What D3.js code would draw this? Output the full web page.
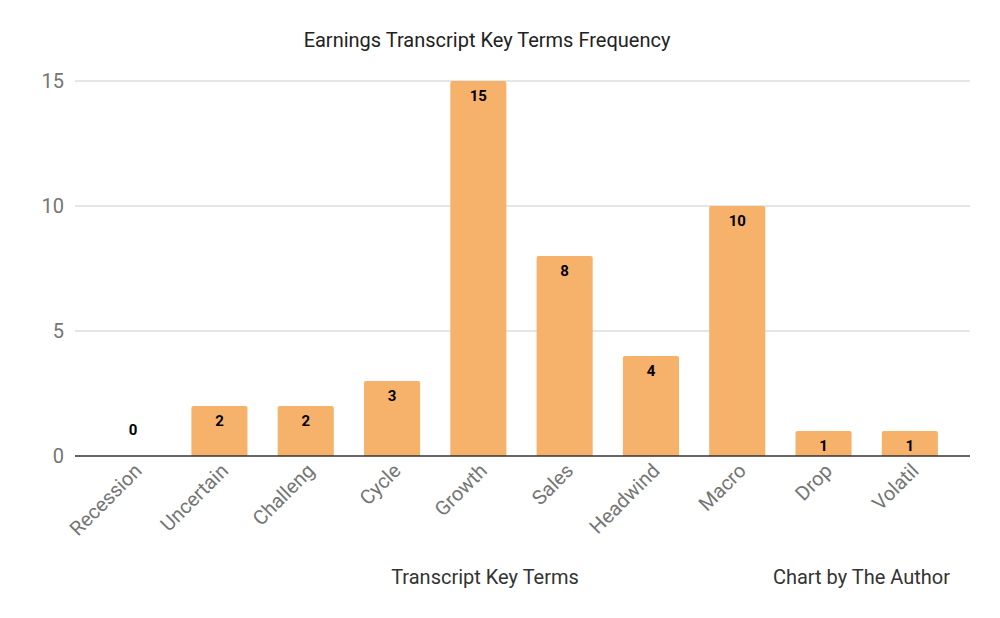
<!DOCTYPE html>
<html>
<head>
<meta charset="utf-8">
<script src="https://cdn.jsdelivr.net/npm/d3@7"></script>
<style>
  body { margin: 0; background: #fff; }
  text { font-family: Roboto, "Noto Sans", sans-serif; }
</style>
</head>
<body>
<div id="chart"></div>
<script>
const terms = ["Recession", "Uncertain", "Challeng", "Cycle", "Growth", "Sales", "Headwind", "Macro", "Drop", "Volatil"];
const counts = [0, 2, 2, 3, 15, 8, 4, 10, 1, 1];
const yTicks = [0, 5, 10, 15];

const width = 1000, height = 618;
const gridLeft = 75, gridRight = 970;

const svg = d3.select("#chart").append("svg")
    .attr("width", width).attr("height", height);

const x = d3.scaleBand().domain(terms).range([90, 953]).paddingInner(0.35).paddingOuter(0.175);
const y = d3.scaleLinear().domain([0, 15]).range([456, 81]);

// gridlines
svg.append("g").selectAll("line").data(yTicks.filter(d => d > 0)).join("line")
    .attr("x1", gridLeft).attr("x2", gridRight)
    .attr("y1", d => y(d)).attr("y2", d => y(d))
    .attr("stroke", "#cccccc").attr("stroke-width", 1);

// y tick labels
svg.append("g").selectAll("text").data(yTicks).join("text")
    .attr("x", 64).attr("y", d => y(d)).attr("dy", "0.35em")
    .attr("text-anchor", "end").attr("font-size", 20).attr("fill", "#757575")
    .text(d => d);

// bars with rounded top corners
const r = 2;
svg.append("g").selectAll("path").data(counts.map((v, i) => ({term: terms[i], v})).filter(d => d.v > 0)).join("path")
    .attr("fill", "#f6b26b")
    .attr("d", d => {
        const x0 = x(d.term), w = x.bandwidth(), top = y(d.v), base = y(0);
        return `M${x0},${base}V${top + r}Q${x0},${top} ${x0 + r},${top}H${x0 + w - r}Q${x0 + w},${top} ${x0 + w},${top + r}V${base}Z`;
    });

// value labels
svg.append("g").selectAll("text").data(counts.map((v, i) => ({term: terms[i], v}))).join("text")
    .attr("x", d => x(d.term) + x.bandwidth() / 2)
    .attr("y", d => d.v > 0 ? y(d.v) + 15 : y(0) - 26)
    .attr("dy", "0.35em")
    .attr("text-anchor", "middle").attr("font-size", 15).attr("font-weight", "bold").attr("fill", "#000")
    .text(d => d.v);

// baseline
svg.append("line")
    .attr("x1", gridLeft).attr("x2", gridRight)
    .attr("y1", y(0)).attr("y2", y(0))
    .attr("stroke", "#333").attr("stroke-width", 1.5);

// x labels
svg.append("g").selectAll("text").data(terms).join("text")
    .attr("transform", d => `translate(${x(d) + x.bandwidth() / 2 + 10},${472}) rotate(-45)`)
    .attr("text-anchor", "end").attr("font-size", 20).attr("fill", "#757575")
    .text(d => d);

// title
svg.append("text").attr("x", 487).attr("y", 47)
    .attr("text-anchor", "middle").attr("font-size", 20).attr("fill", "#222")
    .text("Earnings Transcript Key Terms Frequency");

// axis title
svg.append("text").attr("x", 485).attr("y", 584)
    .attr("text-anchor", "middle").attr("font-size", 20).attr("fill", "#333")
    .text("Transcript Key Terms");

svg.append("text").attr("x", 950).attr("y", 584)
    .attr("text-anchor", "end").attr("font-size", 20).attr("fill", "#333")
    .text("Chart by The Author");
</script>
</body>
</html>
